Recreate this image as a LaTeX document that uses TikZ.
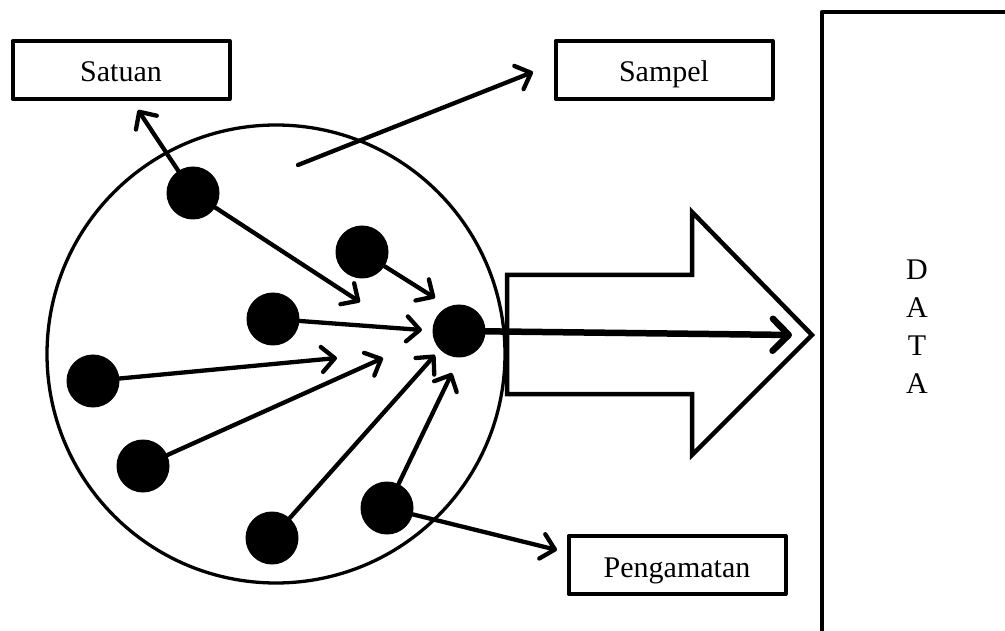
\documentclass[tikz,border=0pt]{standalone}
\usepackage{fontspec}
\setmainfont{Liberation Serif}
\usetikzlibrary{arrows.meta}
\begin{document}
\begin{tikzpicture}[x=1pt,y=-1pt,
  labelbox/.style={draw, line width=4pt, line join=round, minimum width=217pt,
    minimum height=58pt, inner sep=0pt, text height=30pt, text depth=6pt,
    font=\fontsize{30}{36}\selectfont},
  dot/.style={circle, fill=black, inner sep=0pt, minimum size=53pt},
  link/.style={line width=4.3pt, line cap=round,
    -{Straight Barb[length=13pt,width=25pt,line cap=round,line join=round]}},
  mainlink/.style={line width=6.5pt, line cap=round,
    -{Straight Barb[length=16pt,width=32pt,line cap=round,line join=round]}}]
\useasboundingbox (0,0) rectangle (1005,631);

% population circle
\draw[line width=3.3pt] (276,354) circle[radius=229];

% block arrow towards the data column
\draw[line width=4.5pt, line join=miter] (507,275) -- (692,275) -- (692,212) -- (812,335)
  -- (692,455) -- (692,394) -- (507,394) -- cycle;

% data column
\draw[line width=4.5pt, line join=round] (822,640) -- (822,12) -- (1010,12);
\node[font=\fontsize{30}{38}\selectfont, align=center] (data) at (917,327) {D\\A\\T\\A};

% labels
\node[labelbox] (satuan) at (121,70) {Satuan};
\node[labelbox] (sampel) at (664,70) {Sampel};
\node[labelbox] (pengamatan) at (677,565) {Pengamatan};

% units inside the sample
\node[dot] (d1) at (193,193) {};
\node[dot] (d2) at (362,252) {};
\node[dot] (d3) at (273,319) {};
\node[dot] (d4) at (93,381) {};
\node[dot] (d5) at (459,331) {};
\node[dot] (d6) at (143,466) {};
\node[dot] (d7) at (272,538) {};
\node[dot] (d8) at (387,508) {};

% arrow end points
\coordinate (tSatuan) at (138,110);
\coordinate (sStart) at (298,165);
\coordinate (tSampel) at (533,72);
\coordinate (tPeng) at (557,550);
\coordinate (t1) at (360,302);
\coordinate (t2) at (435,298);
\coordinate (t3) at (422,330);
\coordinate (t4) at (337,358);
\coordinate (t6) at (383,358);
\coordinate (t7) at (435,355);
\coordinate (t8) at (452,373);
\coordinate (tData) at (792,335);

% connectors
\draw[link] (d1) -- (tSatuan);
\draw[link] (sStart) -- (tSampel);
\draw[link] (d8) -- (tPeng);
\draw[link] (d1) -- (t1);
\draw[link] (d2) -- (t2);
\draw[link] (d3) -- (t3);
\draw[link] (d4) -- (t4);
\draw[link] (d6) -- (t6);
\draw[link] (d7) -- (t7);
\draw[link] (d8) -- (t8);
\draw[mainlink] (d5) -- (tData);
\end{tikzpicture}
\end{document}
